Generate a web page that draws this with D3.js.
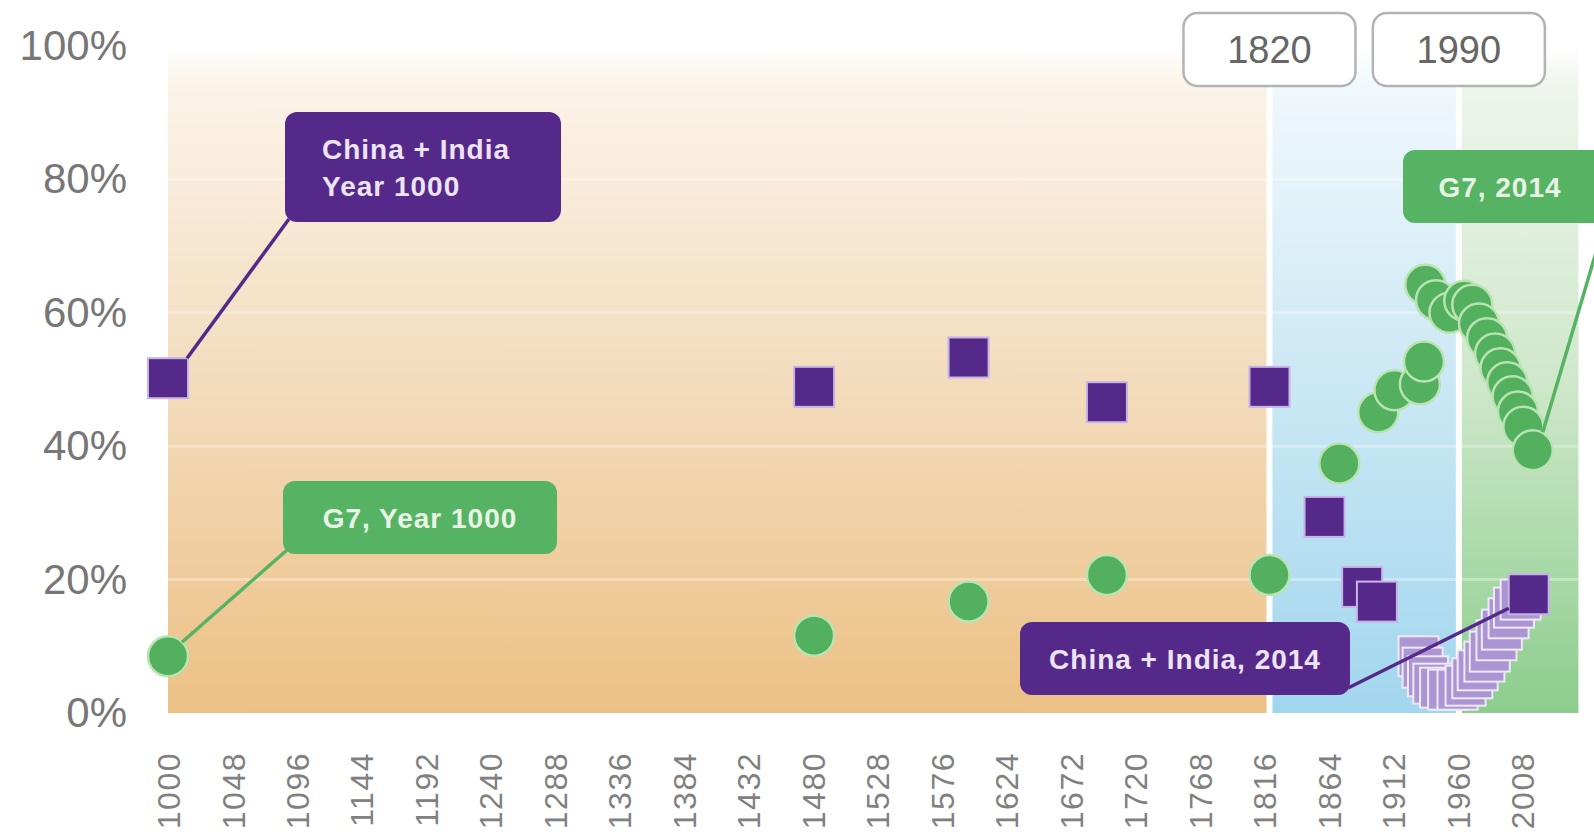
<!DOCTYPE html>
<html>
<head>
<meta charset="utf-8">
<script src="https://cdn.jsdelivr.net/npm/d3@7"></script>
<style>
  body { margin: 0; background: #fff; }
  svg { display: block; font-family: "Liberation Sans", Arial, sans-serif; }
</style>
</head>
<body>
<script>
// share of world GDP (%), positions
var cnYears = [1000, 1481, 1596, 1699, 1820, 1861, 1889, 1900,
  1931, 1934, 1938, 1942, 1947, 1953, 1960, 1966, 1971, 1975, 1980, 1984, 1989, 1993, 1998, 2002, 2007, 2013];
var cnShare = [50.2, 48.9, 53.3, 46.6, 48.9, 29.4, 18.9, 16.7,
  8.5, 6.8, 5.5, 4.4, 3.8, 3.5, 3.5, 4.1, 5.2, 6.4, 7.7, 9.2, 10.9, 12.5, 14.2, 15.8, 17.0, 17.8];

var g7Years = [1000, 1481, 1596, 1699, 1820, 1872, 1901, 1913, 1932, 1935,
  1936, 1944, 1954, 1965, 1971, 1976, 1982, 1988, 1992, 1997, 2001, 2005, 2009, 2016];
var g7Share = [8.5, 11.6, 16.7, 20.7, 20.7, 37.4, 45.1, 48.4, 49.3, 52.7,
  64.2, 61.9, 60.0, 61.8, 61.2, 58.4, 56.2, 53.9, 51.7, 49.6, 47.5, 45.2, 42.9, 39.4];

var yTicks = [0, 20, 40, 60, 80, 100];
var xTicks = d3.range(1000, 2009, 48);
var regionBreaks = [1000, 1820, 1961, 2050];
var regionLabels = ["1820", "1990"];

var cnTrailStart = 8; // from here on the squares are the faded animation trail

var W = 1594, H = 835;
var svg = d3.select("body").append("svg").attr("width", W).attr("height", H);

var x = d3.scaleLinear().domain([1000, 2008]).range([168, 1522]);
var y = d3.scaleLinear().domain([0, 100]).range([713, 46]);

var defs = svg.append("defs");
var grads = [
  ["gOrange", "#fbf3e8", "#f3dcbd", "#ecc084"],
  ["gBlue", "#f0f8fb", "#cbe8f4", "#a2d6ee"],
  ["gGreen", "#eef5ec", "#cfe8cb", "#8ccd8d"]
];
grads.forEach(function(g) {
  var lg = defs.append("linearGradient").attr("id", g[0]).attr("x1", 0).attr("y1", 0).attr("x2", 0).attr("y2", 1);
  lg.append("stop").attr("offset", "0%").attr("stop-color", "#ffffff");
  lg.append("stop").attr("offset", "6%").attr("stop-color", g[1]);
  lg.append("stop").attr("offset", "50%").attr("stop-color", g[2]);
  lg.append("stop").attr("offset", "100%").attr("stop-color", g[3]);
});

// background bands
var bands = d3.range(3).map(function(i) { return {from: regionBreaks[i], to: regionBreaks[i + 1], fill: "url(#" + grads[i][0] + ")"}; });
svg.append("g").selectAll("rect").data(bands).enter().append("rect")
  .attr("x", function(d, i) { return x(d.from) + (i ? 3 : 0); })
  .attr("width", function(d, i) { return x(d.to) - x(d.from) - (i ? 3 : 0) - (i < 2 ? 3 : 0); })
  .attr("y", y(100))
  .attr("height", y(0) - y(100))
  .attr("fill", function(d) { return d.fill; });

// faint gridlines
svg.append("g").selectAll("line").data(yTicks.slice(1, 5)).enter().append("line")
  .attr("x1", x(1000)).attr("x2", x(2050))
  .attr("y1", function(d) { return y(d); }).attr("y2", function(d) { return y(d); })
  .attr("stroke", "rgba(255,255,255,0.3)").attr("stroke-width", 3);

// axes
var yAxis = svg.append("g").attr("transform", "translate(" + x(1000) + ",0)")
  .call(d3.axisLeft(y).tickValues(yTicks).tickSize(0).tickPadding(41).tickFormat(function(d) { return d + "%"; }));
yAxis.select(".domain").remove();
yAxis.selectAll("text").attr("font-size", 42).attr("fill", "#777").attr("font-family", null);

var xAxis = svg.append("g").attr("transform", "translate(0," + y(0) + ")")
  .call(d3.axisBottom(x).tickValues(xTicks).tickSize(0).tickFormat(d3.format("d")));
xAxis.select(".domain").remove();
xAxis.selectAll("text")
  .attr("transform", "rotate(-90)")
  .attr("x", -39).attr("y", 0).attr("dy", "0.36em")
  .attr("text-anchor", "end")
  .attr("font-size", 32).attr("letter-spacing", 1.5)
  .attr("fill", "#808080").attr("font-family", null);

// region labels
var rl = svg.append("g").selectAll("g").data(regionLabels).enter().append("g")
  .attr("transform", function(d, i) { return "translate(" + x(regionBreaks[i + 1]) + ",49)"; });
rl.append("rect").attr("x", -86).attr("y", -36).attr("width", 172).attr("height", 73).attr("rx", 14)
  .attr("fill", "#fff").attr("stroke", "#b3b3b3").attr("stroke-width", 2.5);
rl.append("text").attr("text-anchor", "middle").attr("dy", "0.36em")
  .attr("font-size", 38).attr("fill", "#666").text(function(d) { return d; });

// G7 circles
var g7 = g7Years.map(function(yr, i) { return {yr: yr, v: g7Share[i]}; });
svg.append("g").selectAll("circle").data(g7).enter().append("circle")
  .attr("cx", function(d) { return x(d.yr); })
  .attr("cy", function(d) { return y(d.v); })
  .attr("r", 20)
  .attr("fill", "#53b05e")
  .attr("stroke", "#b9e4b2").attr("stroke-width", 2.5);

// China + India squares
var cn = cnYears.map(function(yr, i) { return {yr: yr, v: cnShare[i], trail: i >= cnTrailStart && i < cnYears.length - 1}; });
svg.append("g").selectAll("rect").data(cn).enter().append("rect")
  .attr("x", function(d) { return x(d.yr) - 20; })
  .attr("y", function(d) { return y(d.v) - 20; })
  .attr("width", 40).attr("height", 40)
  .attr("fill", function(d) { return d.trail ? "#ab95d2" : "#55298a"; })
  .attr("stroke", function(d) { return d.trail ? "#efe9f7" : "#c7b3e4"; })
  .attr("stroke-width", 2);

// callouts
var purple = "#55298a", green = "#56b363";
function callout(bx, by, bw, bh, fill, lines, anchor, tx, line) {
  svg.append("line").attr("x1", line[0]).attr("y1", line[1]).attr("x2", line[2]).attr("y2", line[3])
    .attr("stroke", fill).attr("stroke-width", 3.5);
  svg.append("rect").attr("x", bx).attr("y", by).attr("width", bw).attr("height", bh).attr("rx", 12)
    .attr("fill", fill);
  var t = svg.append("text").attr("font-size", 28).attr("font-weight", "bold").attr("letter-spacing", 1)
    .attr("fill", fill === purple ? "#eee4f7" : "#e8f5e6").attr("text-anchor", anchor);
  lines.forEach(function(s, i) {
    t.append("tspan").attr("x", tx).attr("y", by + bh / 2 + (i - (lines.length - 1) / 2) * 37).attr("dy", "0.36em").text(s);
  });
}

var cn0 = [x(cnYears[0]), y(cnShare[0])];
callout(285, 112, 276, 110, purple, ["China + India", "Year 1000"], "start", 322,
  [cn0[0] + 19, cn0[1] - 20, 289, 219]);
var g0 = [x(g7Years[0]), y(g7Share[0])];
callout(283, 481, 274, 73, green, ["G7, Year 1000"], "middle", 420,
  [g0[0] + 14, g0[1] - 14, 287, 550]);
var cnL = [x(cnYears[cnYears.length - 1]), y(cnShare[cnShare.length - 1])];
callout(1020, 622, 330, 73, purple, ["China + India, 2014"], "middle", 1185,
  [1348, 688, cnL[0] - 20, cnL[1] + 14]);
var gL = [x(g7Years[g7Years.length - 1]), y(g7Share[g7Share.length - 1])];
callout(1403, 150, 220, 73, green, ["G7, 2014"], "middle", 1500,
  [gL[0] + 10, gL[1] - 18, 1605, 222]);
</script>
</body>
</html>
